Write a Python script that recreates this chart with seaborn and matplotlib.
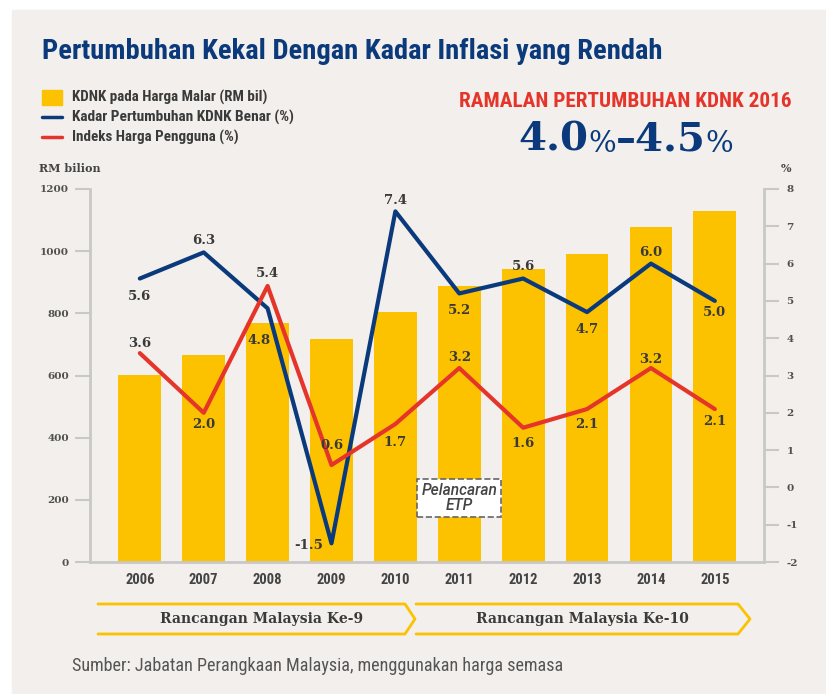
import numpy as np
import pandas as pd
import seaborn as sns
import matplotlib.pyplot as plt
from matplotlib.patches import Rectangle

# --- data ---
years = ['2006', '2007', '2008', '2009', '2010', '2011', '2012', '2013', '2014', '2015']
gdp_rm_bil = [602, 666, 769, 717, 804, 888, 943, 991, 1078, 1129]
gdp_growth = [5.6, 6.3, 4.8, -1.5, 7.4, 5.2, 5.6, 4.7, 6.0, 5.0]
cpi = [3.6, 2.0, 5.4, 0.6, 1.7, 3.2, 1.6, 2.1, 3.2, 2.1]
left_ticks = [0, 200, 400, 600, 800, 1000, 1200]
right_ticks = [-2, -1, 0, 1, 2, 3, 4, 5, 6, 7, 8]
legend_labels = ['KDNK pada Harga Malar (RM bil)', 'Kadar Pertumbuhan KDNK Benar (%)',
                 'Indeks Harga Pengguna (%)']
plans = ['Rancangan Malaysia Ke-9', 'Rancangan Malaysia Ke-10']

# label placement (pixel offsets) for the point labels
growth_offsets = [(0, -18), (0, 12), (-9, -32), (-23, -2), (0, 11), (0, -17), (0, 12), (0, -17), (0, 11), (0, -12)]
cpi_offsets = [(0, 10), (0, -12), (0, 12), (0, 20), (0, -19), (0, 11), (0, -16), (0, -15), (0, 9), (0, -12)]

YELLOW = '#fcc200'
NAVY = '#0b3a7c'
RED = '#e5352b'
GREY = '#c8c8c8'
BG = '#f2efec'
TXT = '#3a3a3a'
COND = ['Roboto Condensed', 'Roboto', 'DejaVu Sans']
SERIF = ['DejaVu Serif']

sns.set_style('white')
plt.rcParams['font.family'] = ['DejaVu Sans']

df = pd.DataFrame({'year': years, 'pos': np.arange(len(years)), 'gdp': gdp_rm_bil,
                   'growth': gdp_growth, 'cpi': cpi})

fig = plt.figure(figsize=(8.26, 6.94), dpi=100)
fig.patch.set_facecolor('white')


def fit_width(t, width_px):
    """ scale a text's font size so that it spans width_px pixels """
    r = fig.canvas.get_renderer()
    w = t.get_window_extent(r).width
    t.set_fontsize(t.get_fontsize() * width_px / w)


# decoration layer in pixel coordinates
deco = fig.add_axes([0, 0, 1, 1], zorder=0)
deco.set_xlim(0, 826)
deco.set_ylim(694, 0)
deco.axis('off')
deco.add_patch(Rectangle((12, 10), 814, 684, color=BG, zorder=0))

ax = fig.add_axes([90 / 826, 132 / 694, 674 / 826, 373 / 694], zorder=1)
ax.patch.set_alpha(0)
sns.barplot(data=df, x='year', y='gdp', color=YELLOW, width=0.67, saturation=1, linewidth=0,
            edgecolor='none', ax=ax, zorder=1)
ax.set_xlim(-0.78, 9.77)
ax.set_ylim(0, 1200)
ax.set_yticks(left_ticks)
ax.set_yticklabels([str(t) for t in left_ticks], fontfamily=SERIF, fontweight='bold', fontsize=7.5, color='#505050')
ax.set_xticks(range(len(years)))
ax.set_xticklabels(years, fontfamily=COND, fontweight='bold', fontsize=10.5, color='#444444')
ax.tick_params(axis='y', length=11, width=1.5, color=GREY, pad=4, left=True)
ax.tick_params(axis='x', length=0, pad=8)
ax.set_xlabel('')
ax.set_ylabel('')
for s in ['top', 'right']:
    ax.spines[s].set_visible(False)
for s in ['left', 'bottom']:
    ax.spines[s].set_color(GREY)
    ax.spines[s].set_linewidth(2)

ax2 = ax.twinx()
sns.lineplot(data=df, x='pos', y='growth', ax=ax2, color=NAVY, lw=3, sort=False, zorder=3)
sns.lineplot(data=df, x='pos', y='cpi', ax=ax2, color=RED, lw=3, sort=False, zorder=3)
ax2.set_ylim(-2, 8)
ax2.set_yticks(right_ticks)
ax2.set_yticklabels([str(t) for t in right_ticks], fontfamily=SERIF, fontweight='bold', fontsize=7.5, color='#505050')
ax2.tick_params(axis='y', length=11, width=1.5, color=GREY, pad=5, right=True)
ax2.set_xlabel('')
ax2.set_ylabel('')
for s in ['top', 'left', 'bottom']:
    ax2.spines[s].set_visible(False)
ax2.spines['right'].set_color(GREY)
ax2.spines['right'].set_linewidth(2)

for i, (v, off) in enumerate(zip(gdp_growth, growth_offsets)):
    ax2.annotate(f'{v:.1f}', (i, v), xytext=off, textcoords='offset pixels', ha='center', va='center',
                 fontfamily=SERIF, fontweight='bold', fontsize=9.5, color=TXT, zorder=5)
for i, (v, off) in enumerate(zip(cpi, cpi_offsets)):
    ax2.annotate(f'{v:.1f}', (i, v), xytext=off, textcoords='offset pixels', ha='center', va='center',
                 fontfamily=SERIF, fontweight='bold', fontsize=9.5, color=TXT, zorder=5)

etp = ax2.text(5, -0.28, 'Pelancaran\nETP', ha='center', va='center', style='italic', fontsize=10.5,
               fontweight='medium', fontfamily=['Roboto', 'DejaVu Sans'], color='#444444', linespacing=1.0,
               zorder=6, bbox=dict(boxstyle='square,pad=0.25', fc='white', ec='#666666', ls='--', lw=1.2))
fit_width(etp, 76)

# axis captions
deco.text(70, 168, 'RM bilion', ha='center', va='center', fontfamily=SERIF, fontweight='bold', fontsize=8, color='#444444')
deco.text(786, 168, '%', ha='center', va='center', fontfamily=SERIF, fontweight='bold', fontsize=8, color='#444444')

# title
title = deco.text(42, 51, 'Pertumbuhan Kekal Dengan Kadar Inflasi yang Rendah', ha='left', va='center',
                  fontfamily=COND, fontweight='bold', fontsize=20, color=NAVY)
fit_width(title, 618)

# legend
deco.add_patch(Rectangle((42, 90), 20, 15, color=YELLOW, zorder=2))
deco.plot([42, 62], [117, 117], color=NAVY, lw=2.5)
deco.plot([42, 62], [137, 137], color=RED, lw=2.5)
for y, lab, w in zip([97, 117, 137], legend_labels, [196, 224, 166]):
    t = deco.text(72, y, lab, ha='left', va='center', fontfamily=COND,
                  fontweight='bold', fontsize=9, color='#3a3a3a')
    fit_width(t, w)

# forecast
head = deco.text(792, 101, 'RAMALAN PERTUMBUHAN KDNK 2016', ha='right', va='center', fontfamily=COND,
                 fontweight='bold', fontsize=15, color=RED)
fit_width(head, 334)
t1 = deco.text(518, 158, '4.0', ha='left', va='bottom', fontfamily=SERIF, fontweight='bold', fontsize=29, color=NAVY)
t2 = deco.annotate('%', xy=(1, 0), xycoords=t1, ha='left', va='bottom', fontfamily=SERIF, fontsize=21, color=NAVY)
t3 = deco.annotate('\u20134.5', xy=(1, 0), xycoords=t2, ha='left', va='bottom', fontfamily=SERIF, fontweight='bold', fontsize=29, color=NAVY)
deco.annotate('%', xy=(1, 0), xycoords=t3, ha='left', va='bottom', fontfamily=SERIF, fontsize=21, color=NAVY)

# plan bands
band1_x = [98, 405, 415, 405, 98]
band2_x = [416, 738, 750, 738, 416]
band_y = [604, 604, 619, 634, 634]
deco.plot(band1_x, band_y, color=YELLOW, lw=2)
deco.plot(band2_x, band_y, color=YELLOW, lw=2)
deco.text(262, 619, plans[0], ha='center', va='center', fontfamily=SERIF, fontweight='bold', fontsize=10, color='#3a3a3a')
deco.text(582, 619, plans[1], ha='center', va='center', fontfamily=SERIF, fontweight='bold', fontsize=10, color='#3a3a3a')

# source
src = deco.text(72, 666, 'Sumber: Jabatan Perangkaan Malaysia, menggunakan harga semasa', ha='left', va='center',
                fontfamily=COND, fontsize=10, color='#555555')
fit_width(src, 490)

fig.savefig('out.png', dpi=100, facecolor='white')
plt.close(fig)
